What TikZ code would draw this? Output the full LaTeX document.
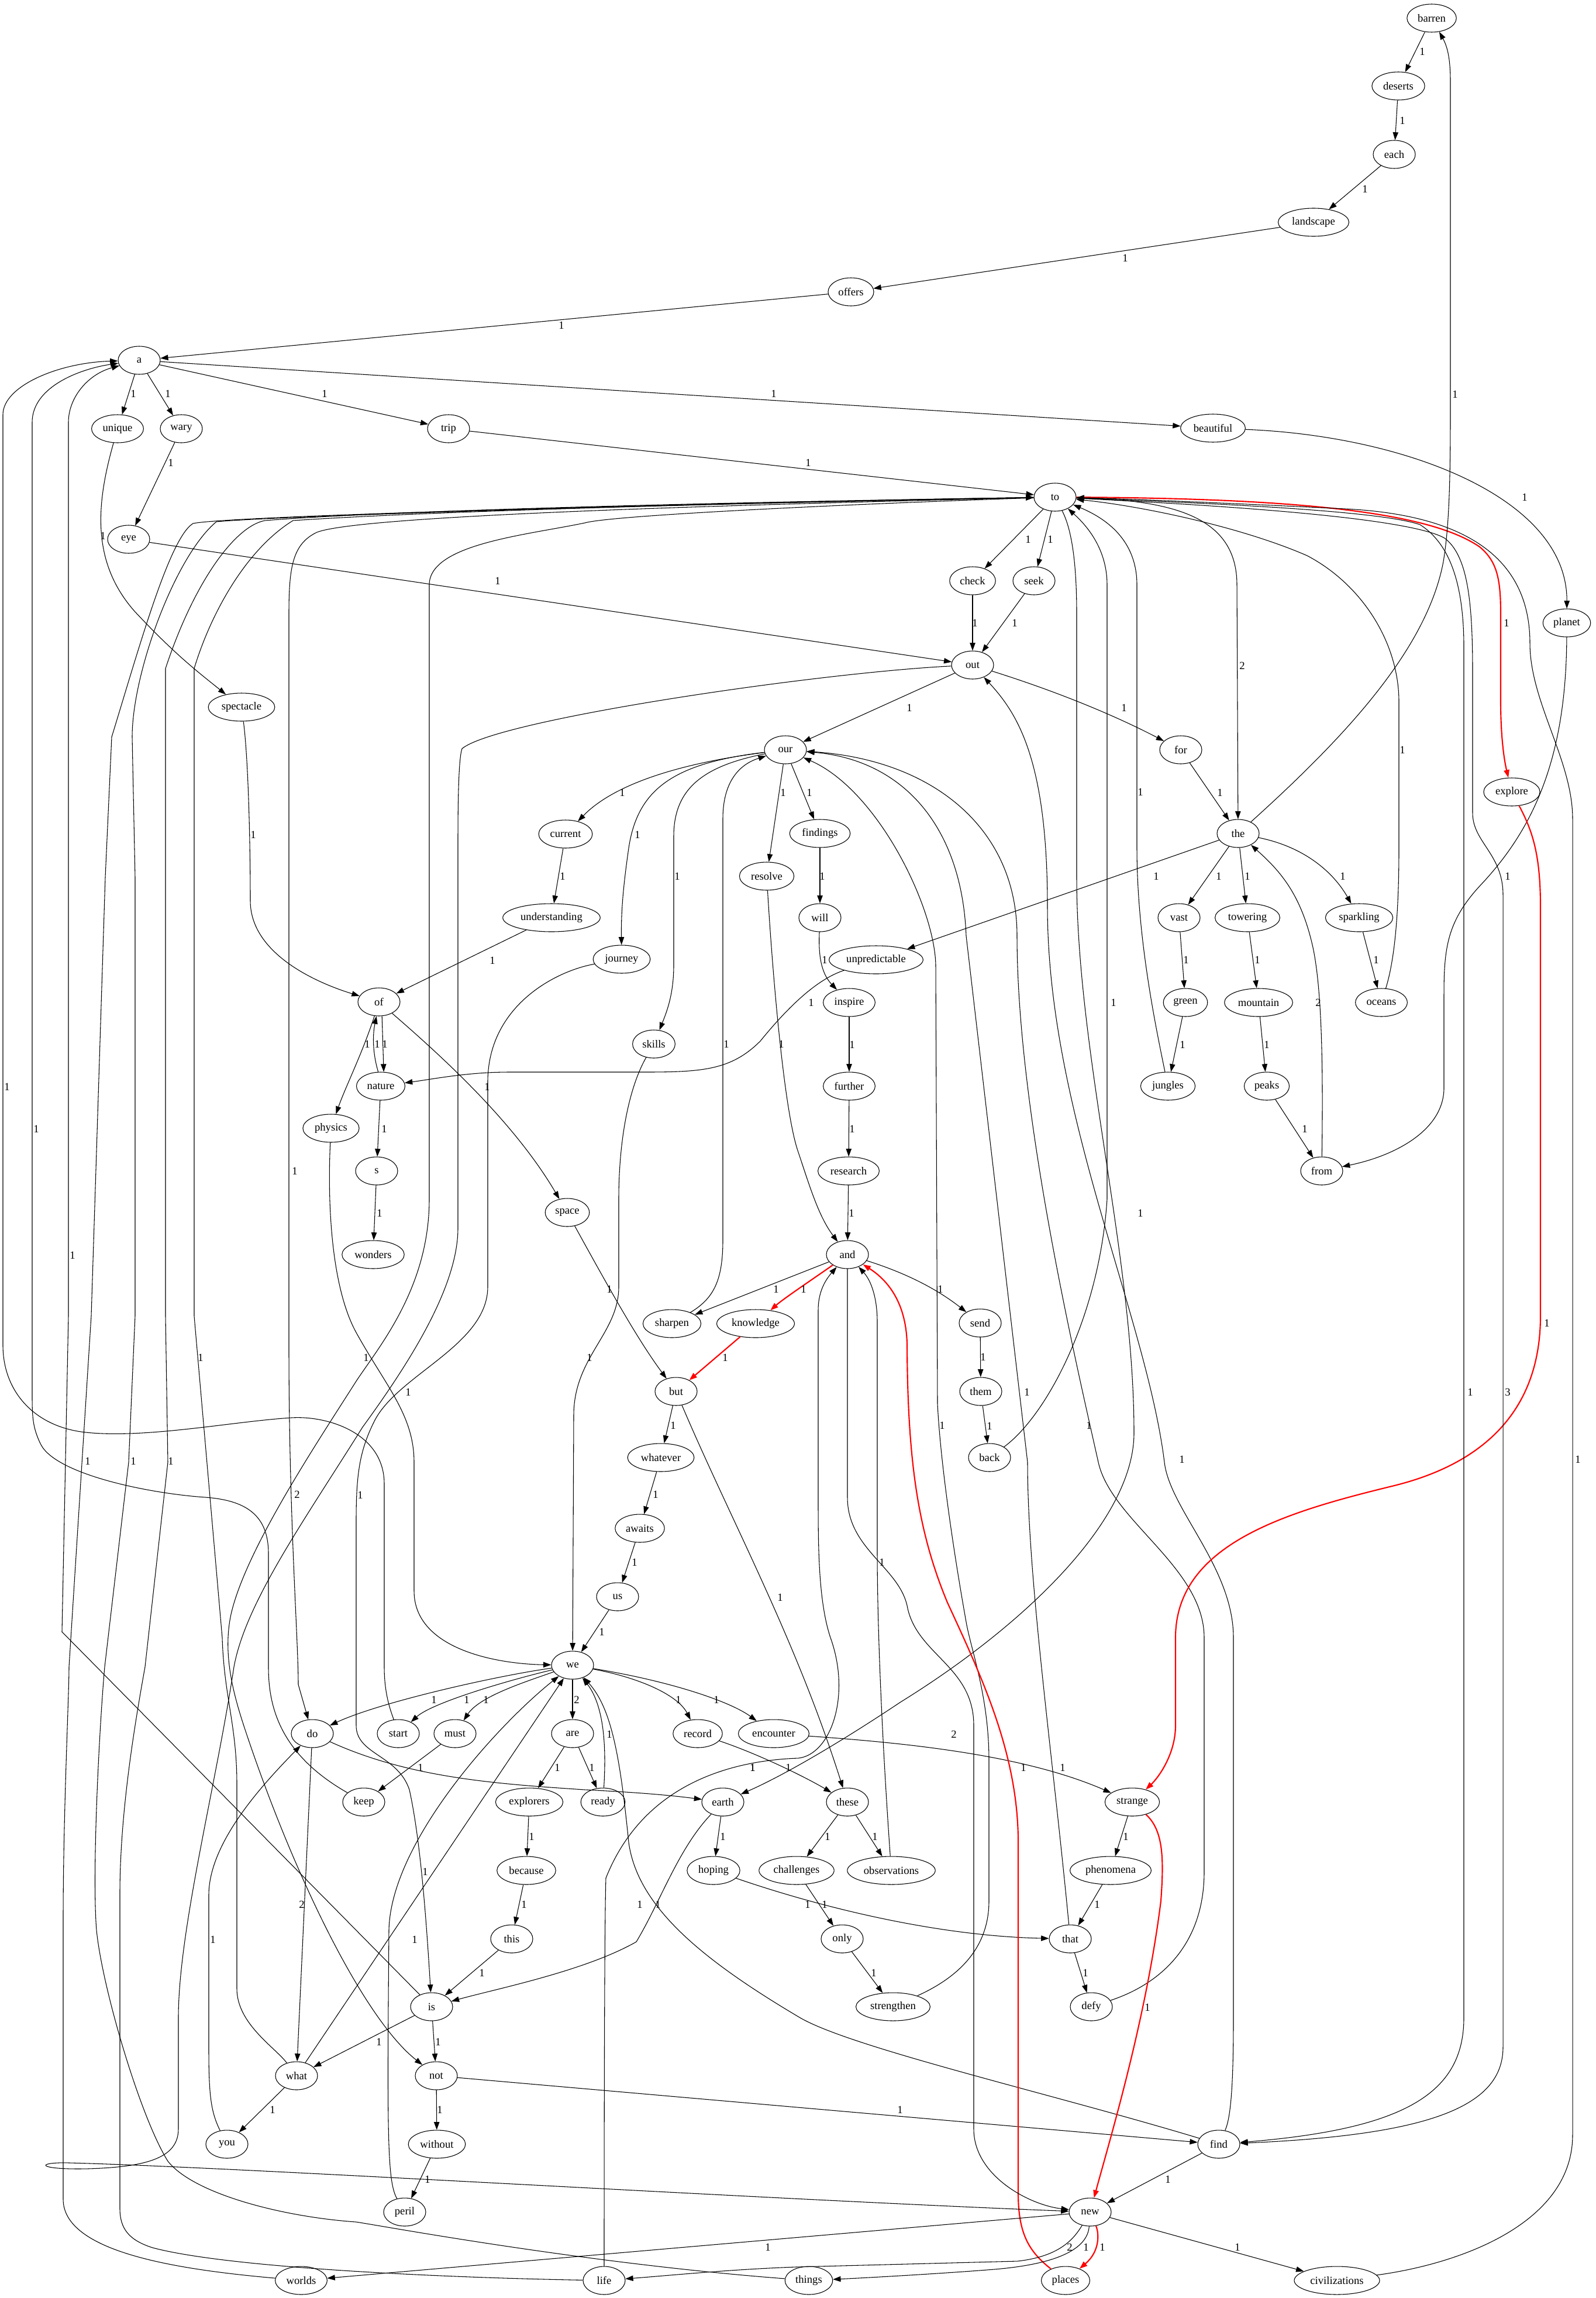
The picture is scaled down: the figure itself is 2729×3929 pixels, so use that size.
\documentclass[tikz,border=0pt]{standalone}
\usepackage{fontspec}
\setmainfont{Liberation Serif}
\usetikzlibrary{arrows.meta,shapes.geometric}
\begin{document}
\begin{tikzpicture}[x=0.75pt,y=-0.75pt,
  w/.style={ellipse,draw,line width=0.8pt,minimum width=54pt,minimum height=36pt,inner xsep=4.5pt,inner ysep=2pt,font=\fontsize{14pt}{16pt}\selectfont},
  e/.style={draw,line width=0.8pt,-{Triangle[length=10pt,width=7pt]}},
  re/.style={e,draw=red,line width=1.6pt},
  lab/.style={font=\fontsize{14pt}{16pt}\selectfont,inner sep=0pt,text=black}]
\fill[white] (0,0) rectangle (2729,3929);
\useasboundingbox (0,0) rectangle (2729,3929);

% ---------- words ----------
\node[w] (barren) at (2448,31) {barren};
\node[w] (deserts) at (2391,147) {deserts};
\node[w] (each) at (2384,264) {each};
\node[w] (landscape) at (2246,380) {landscape};
\node[w] (offers) at (1455,499) {offers};
\node[w] (a) at (238,616) {a};
\node[w] (unique) at (201,733) {unique};
\node[w] (wary) at (310,733) {wary};
\node[w] (trip) at (767,733) {trip};
\node[w] (beautiful) at (2074,732) {beautiful};
\node[w] (to) at (1804,850) {to};
\node[w] (eye) at (220,922) {eye};
\node[w] (check) at (1663,993) {check};
\node[w] (seek) at (1768,993) {seek};
\node[w] (planet) at (2679,1065) {planet};
\node[w] (out) at (1663,1137) {out};
\node[w] (spectacle) at (413,1209) {spectacle};
\node[w] (for) at (2019,1282) {for};
\node[w] (our) at (1343,1282) {our};
\node[w] (explore) at (2585,1354) {explore};
\node[w] (the) at (2117,1425) {the};
\node[w] (current) at (967,1426) {current};
\node[w] (findings) at (1402,1425) {findings};
\node[w] (resolve) at (1311,1498) {resolve};
\node[w] (understanding) at (943,1569) {understanding};
\node[w] (will) at (1402,1569) {will};
\node[w] (vast) at (2016,1569) {vast};
\node[w] (towering) at (2133,1569) {towering};
\node[w] (sparkling) at (2324,1569) {sparkling};
\node[w] (journey) at (1063,1640) {journey};
\node[w] (unpredictable) at (1498,1641) {unpredictable};
\node[w] (of) at (648,1713) {of};
\node[w] (inspire) at (1452,1714) {inspire};
\node[w] (green) at (2027,1714) {green};
\node[w] (mountain) at (2152,1714) {mountain};
\node[w] (oceans) at (2362,1714) {oceans};
\node[w] (skills) at (1118,1785) {skills};
\node[w] (nature) at (651,1857) {nature};
\node[w] (further) at (1452,1857) {further};
\node[w] (jungles) at (1997,1857) {jungles};
\node[w] (peaks) at (2166,1857) {peaks};
\node[w] (physics) at (566,1929) {physics};
\node[w] (s) at (644,2002) {s};
\node[w] (research) at (1451,2002) {research};
\node[w] (from) at (2260,2002) {from};
\node[w] (space) at (970,2073) {space};
\node[w] (wonders) at (638,2145) {wonders};
\node[w] (and) at (1449,2145) {and};
\node[w] (sharpen) at (1149,2263) {sharpen};
\node[w] (knowledge) at (1292,2263) {knowledge};
\node[w] (send) at (1676,2262) {send};
\node[w] (but) at (1156,2379) {but};
\node[w] (them) at (1677,2379) {them};
\node[w] (whatever) at (1130,2492) {whatever};
\node[w] (back) at (1692,2492) {back};
\node[w] (awaits) at (1094,2613) {awaits};
\node[w] (us) at (1056,2730) {us};
\node[w] (we) at (979,2847) {we};
\node[w] (do) at (534,2964) {do};
\node[w] (start) at (681,2964) {start};
\node[w] (must) at (778,2964) {must};
\node[w] (are) at (979,2964) {are};
\node[w] (record) at (1193,2964) {record};
\node[w] (encounter) at (1323,2964) {encounter};
\node[w] (keep) at (622,3081) {keep};
\node[w] (explorers) at (905,3081) {explorers};
\node[w] (ready) at (1031,3081) {ready};
\node[w] (earth) at (1236,3081) {earth};
\node[w] (these) at (1449,3081) {these};
\node[w] (strange) at (1936,3081) {strange};
\node[w] (because) at (900,3198) {because};
\node[w] (hoping) at (1220,3198) {hoping};
\node[w] (challenges) at (1362,3198) {challenges};
\node[w] (observations) at (1524,3198) {observations};
\node[w] (phenomena) at (1899,3198) {phenomena};
\node[w] (this) at (875,3315) {this};
\node[w] (only) at (1440,3315) {only};
\node[w] (that) at (1830,3315) {that};
\node[w] (is) at (738,3431) {is};
\node[w] (strengthen) at (1527,3431) {strengthen};
\node[w] (defy) at (1866,3431) {defy};
\node[w] (what) at (507,3549) {what};
\node[w] (not) at (746,3549) {not};
\node[w] (you) at (388,3666) {you};
\node[w] (without) at (747,3666) {without};
\node[w] (find) at (2084,3666) {find};
\node[w] (peril) at (692,3782) {peril};
\node[w] (new) at (1864,3782) {new};
\node[w] (worlds) at (515,3899) {worlds};
\node[w] (life) at (1033,3899) {life};
\node[w] (things) at (1383,3899) {things};
\node[w] (places) at (1822,3899) {places};
\node[w] (civilizations) at (2286,3899) {civilizations};

% ---------- opening chain ----------
\draw[e] (barren) -- (deserts) node[lab] at (2432,88) {1};
\draw[e] (deserts) -- (each) node[lab] at (2398,206) {1};
\draw[e] (each) -- (landscape) node[lab] at (2334,323) {1};
\draw[e] (landscape) -- (offers) node[lab] at (1924,441) {1};
\draw[e] (offers) -- (a) node[lab] at (960,556) {1};
\draw[e] (a) -- (unique) node[lab] at (228,673) {1};
\draw[e] (a) -- (wary) node[lab] at (287,673) {1};
\draw[e] (a) -- (trip) node[lab] at (555,673) {1};
\draw[e] (a) -- (beautiful) node[lab] at (1323,673) {1};
\draw[e] (trip) -- (to) node[lab] at (1382,791) {1};
\draw[e] (beautiful) .. controls (2400,745) and (2680,850) .. (planet) node[lab] at (2607,850) {1};
\draw[e] (wary) -- (eye) node[lab] at (292,791) {1};
\draw[e] (unique) .. controls (165,860) and (155,960) .. (230,1045) .. controls (300,1120) and (340,1150) .. (spectacle) node[lab] at (176,916) {1};
\draw[e] (eye) -- (out) node[lab] at (851,993) {1};

% ---------- around "to" and "out" ----------
\draw[e] (to) -- (check) node[lab] at (1758,922) {1};
\draw[e] (to) -- (seek) node[lab] at (1796,922) {1};
\draw[e] (check) -- (out) node[lab] at (1667,1065) {1};
\draw[e] (seek) -- (out) node[lab] at (1735,1065) {1};
\draw[e] (out) -- (our) node[lab] at (1555,1210) {1};
\draw[e] (out) .. controls (1800,1180) and (1900,1220) .. (for) node[lab] at (1922,1210) {1};
\draw[e] (for) -- (the) node[lab] at (2086,1355) {1};
\draw[e] (to) .. controls (2000,855) and (2115,880) .. (2115,1000) -- (the) node[lab] at (2124,1138) {2};
\draw[re] (to) .. controls (2250,852) and (2450,880) .. (2530,935) .. controls (2560,960) and (2566,990) .. (2566,1050) -- (2566,1200) .. controls (2566,1260) and (2572,1300) .. (explore) node[lab] at (2576,1065) {1};
\draw[e] (planet) .. controls (2678,1300) and (2620,1420) .. (2530,1515) .. controls (2475,1575) and (2469,1620) .. (2469,1700) -- (2469,1860) .. controls (2469,1930) and (2390,1975) .. (from) node[lab] at (2578,1498) {1};
\draw[e] (the) .. controls (2300,1260) and (2440,1110) .. (2468,960) .. controls (2478,900) and (2480,820) .. (2480,700) -- (2480,140) .. controls (2480,100) and (2475,80) .. (barren) node[lab] at (2488,674) {1};
\draw[e] (the) -- (vast) node[lab] at (2084,1498) {1};
\draw[e] (the) -- (towering) node[lab] at (2133,1498) {1};
\draw[e] (the) .. controls (2240,1450) and (2285,1500) .. (sparkling) node[lab] at (2296,1498) {1};
\draw[e] (the) -- (unpredictable) node[lab] at (1977,1498) {1};
\draw[e] (vast) -- (green) node[lab] at (2028,1641) {1};
\draw[e] (green) -- (jungles) node[lab] at (2022,1786) {1};
\draw[e] (towering) -- (mountain) node[lab] at (2150,1641) {1};
\draw[e] (mountain) -- (peaks) node[lab] at (2166,1786) {1};
\draw[e] (peaks) -- (from) node[lab] at (2231,1930) {1};
\draw[e] (sparkling) -- (oceans) node[lab] at (2353,1641) {1};
\draw[e] (from) .. controls (2262,1850) and (2262,1700) .. (2245,1620) .. controls (2225,1530) and (2190,1490) .. (the) node[lab] at (2254,1714) {2};
\draw[e] (oceans) .. controls (2385,1640) and (2392,1560) .. (2392,1450) -- (2392,1200) .. controls (2392,1100) and (2330,1000) .. (2235,950) .. controls (2120,900) and (1950,865) .. (to) node[lab] at (2398,1282) {1};
\draw[e] (jungles) .. controls (1975,1750) and (1944,1600) .. (1944,1450) -- (1944,1000) .. controls (1944,930) and (1900,890) .. (to) node[lab] at (1950,1354) {1};

% ---------- "our" and its followers ----------
\draw[e] (our) .. controls (1200,1300) and (1060,1330) .. (current) node[lab] at (1064,1355) {1};
\draw[e] (our) .. controls (1150,1305) and (1090,1350) .. (1075,1450) .. controls (1065,1520) and (1062,1560) .. (journey) node[lab] at (1090,1427) {1};
\draw[e] (our) .. controls (1200,1310) and (1152,1350) .. (1152,1430) -- (1152,1650) .. controls (1152,1700) and (1140,1730) .. (skills) node[lab] at (1158,1498) {1};
\draw[e] (our) -- (resolve) node[lab] at (1339,1355) {1};
\draw[e] (our) -- (findings) node[lab] at (1384,1355) {1};
\draw[e] (current) -- (understanding) node[lab] at (962,1498) {1};
\draw[e] (understanding) -- (of) node[lab] at (842,1642) {1};
\draw[e] (spectacle) .. controls (425,1300) and (428,1450) .. (428,1540) .. controls (428,1630) and (540,1680) .. (of) node[lab] at (433,1427) {1};
\draw[e] (findings) -- (will) node[lab] at (1406,1498) {1};
\draw[e] (will) .. controls (1400,1620) and (1400,1660) .. (inspire) node[lab] at (1410,1641) {1};
\draw[e] (inspire) -- (further) node[lab] at (1457,1786) {1};
\draw[e] (further) -- (research) node[lab] at (1457,1930) {1};
\draw[e] (research) -- (and) node[lab] at (1456,2074) {1};
\draw[e] (unpredictable) .. controls (1410,1670) and (1365,1700) .. (1300,1780) .. controls (1250,1830) and (1200,1833) .. (1100,1833) -- (870,1833) .. controls (800,1833) and (740,1845) .. (nature) node[lab] at (1387,1714) {1};
\draw[e] (of.-78) -- (nature.78) node[lab] at (658,1785) {1};
\draw[e] (nature.100) .. controls (637,1800) and (637,1770) .. (of.-100) node[lab] at (645,1785) {1};
\draw[e] (of) .. controls (620,1800) and (590,1860) .. (physics) node[lab] at (628,1785) {1};
\draw[e] (nature) -- (s) node[lab] at (657,1930) {1};
\draw[e] (s) -- (wonders) node[lab] at (649,2074) {1};
\draw[e] (of) .. controls (760,1810) and (880,1920) .. (space) node[lab] at (833,1858) {1};
\draw[e] (space) .. controls (1040,2200) and (1090,2290) .. (but) node[lab] at (1042,2204) {1};
\draw[e] (resolve) .. controls (1320,1650) and (1340,1900) .. (1365,1970) .. controls (1385,2030) and (1400,2080) .. (and) node[lab] at (1336,1785) {1};
\draw[e] (and) -- (sharpen) node[lab] at (1327,2204) {1};
\draw[re] (and) .. controls (1400,2180) and (1340,2220) .. (knowledge) node[lab] at (1374,2204) {1};
\draw[e] (and) .. controls (1560,2180) and (1610,2210) .. (send) node[lab] at (1608,2204) {1};
\draw[e] (sharpen) .. controls (1220,2220) and (1236,2190) .. (1236,2120) -- (1236,1400) .. controls (1236,1330) and (1270,1305) .. (our) node[lab] at (1242,1785) {1};
\draw[re] (knowledge) -- (but) node[lab] at (1240,2321) {1};
\draw[e] (send) -- (them) node[lab] at (1681,2320) {1};
\draw[e] (them) -- (back) node[lab] at (1692,2438) {1};
\draw[e] (back) .. controls (1790,2420) and (1880,2250) .. (1893,2050) -- (1893,1000) .. controls (1893,940) and (1860,900) .. (to) node[lab] at (1904,1714) {1};
\draw[e] (but) -- (whatever) node[lab] at (1151,2437) {1};
\draw[e] (whatever) -- (awaits) node[lab] at (1121,2555) {1};
\draw[e] (awaits) -- (us) node[lab] at (1085,2671) {1};
\draw[e] (us) -- (we) node[lab] at (1029,2790) {1};
\draw[e] (but) .. controls (1250,2600) and (1360,2800) .. (these) node[lab] at (1334,2731) {1};
\draw[e] (skills) .. controls (1075,1860) and (1058,1950) .. (1058,2050) -- (1058,2200) .. controls (1058,2280) and (981,2320) .. (981,2420) -- (we) node[lab] at (1008,2321) {1};
\draw[e] (physics) .. controls (560,2050) and (565,2200) .. (610,2280) .. controls (660,2370) and (708,2420) .. (708,2500) -- (708,2720) .. controls (708,2820) and (850,2845) .. (we) node[lab] at (698,2380) {1};
\draw[e] (journey) .. controls (950,1660) and (834,1720) .. (834,1850) -- (834,2200) .. controls (834,2300) and (680,2350) .. (640,2430) .. controls (615,2480) and (609,2520) .. (609,2600) -- (609,2950) .. controls (609,3000) and (680,3000) .. (700,3060) .. controls (720,3150) and (730,3300) .. (is) node[lab] at (616,2556) {1};

% ---------- "we" and its followers ----------
\draw[e] (we) .. controls (850,2865) and (650,2910) .. (do) node[lab] at (742,2906) {1};
\draw[e] (we) .. controls (880,2870) and (740,2910) .. (start) node[lab] at (798,2906) {1};
\draw[e] (we) .. controls (900,2875) and (820,2900) .. (must) node[lab] at (831,2906) {1};
\draw[e] (we) -- (are) node[lab] at (986,2906) {2};
\draw[e] (ready) .. controls (1036,3000) and (1036,2920) .. (we) node[lab] at (1042,2965) {1};
\draw[e] (we) .. controls (1100,2870) and (1160,2900) .. (record) node[lab] at (1160,2906) {1};
\draw[e] (we) .. controls (1150,2875) and (1250,2910) .. (encounter) node[lab] at (1225,2906) {1};
\draw[e] (are) -- (explorers) node[lab] at (953,3022) {1};
\draw[e] (are) -- (ready) node[lab] at (1012,3022) {1};
\draw[e] (explorers) -- (because) node[lab] at (909,3140) {1};
\draw[e] (because) -- (this) node[lab] at (896,3256) {1};
\draw[e] (this) -- (is) node[lab] at (824,3373) {1};
\draw[e] (must) -- (keep) node[lab] at (719,3022) {1};
\draw[e] (keep) .. controls (480,3000) and (459,2920) .. (459,2850) -- (459,2656) .. controls (459,2590) and (420,2565) .. (351,2560) .. controls (250,2553) and (96,2520) .. (70,2470) .. controls (55,2440) and (55,2420) .. (55,2380) -- (55,722) .. controls (55,660) and (140,630) .. (a) node[lab] at (62,1930) {1};
\draw[e] (start) .. controls (670,2930) and (657,2900) .. (657,2850) -- (657,2537) .. controls (657,2450) and (560,2420) .. (498,2424) .. controls (400,2430) and (250,2460) .. (147,2449) .. controls (60,2440) and (5,2380) .. (5,2300) -- (5,709) .. controls (5,660) and (100,620) .. (a) node[lab] at (12,1858) {1};
\draw[e] (is) -- (106,2790) -- (117,2250) -- (117,722) .. controls (117,680) and (150,640) .. (a) node[lab] at (124,2146) {1};
\draw[e] (record) .. controls (1300,3000) and (1380,3040) .. (these) node[lab] at (1348,3022) {1};
\draw[e] (encounter) .. controls (1550,2980) and (1750,3000) .. (strange) node[lab] at (1817,3022) {1};
\draw[e] (do) .. controls (700,3040) and (850,3050) .. (1000,3060) .. controls (1100,3065) and (1150,3070) .. (earth) node[lab] at (1287,3022) {1};
\draw[e] (to) .. controls (1830,900) and (1841,950) .. (1841,1050) -- (1841,1500) .. controls (1841,1800) and (1939,2150) .. (1939,2450) .. controls (1939,2600) and (1750,2780) .. (1540,2910) .. controls (1420,2990) and (1330,3040) .. (earth) node[lab] at (1950,2074) {1};
\draw[e] (earth) -- (hoping) node[lab] at (1236,3140) {1};
\draw[e] (earth) .. controls (1160,3160) and (1130,3250) .. (1088,3320) .. controls (1000,3370) and (850,3400) .. (is) node[lab] at (1125,3256) {1};
\draw[e] (hoping) .. controls (1400,3260) and (1600,3310) .. (that) node[lab] at (1381,3256) {1};
\draw[e] (these) -- (challenges) node[lab] at (1415,3140) {1};
\draw[e] (these) -- (observations) node[lab] at (1496,3140) {1};
\draw[e] (challenges) -- (only) node[lab] at (1410,3256) {1};
\draw[e] (only) -- (strengthen) node[lab] at (1494,3373) {1};
\draw[e] (observations) .. controls (1510,3000) and (1500,2800) .. (1500,2650) -- (1500,2260) .. controls (1500,2220) and (1490,2190) .. (and) node[lab] at (1508,2671) {1};
\draw[e] (strange) -- (phenomena) node[lab] at (1925,3140) {1};
\draw[e] (phenomena) -- (that) node[lab] at (1876,3256) {1};
\draw[e] (that) -- (defy) node[lab] at (1856,3373) {1};
\draw[e] (that) .. controls (1800,3000) and (1757,2700) .. (1757,2500) -- (1652,1600) .. controls (1645,1420) and (1550,1300) .. (our) node[lab] at (1756,2380) {1};
\draw[e] (strengthen) .. controls (1640,3380) and (1691,3330) .. (1691,3250) -- (1691,3010) .. controls (1691,2900) and (1660,2820) .. (1652,2773) .. controls (1630,2650) and (1608,2500) .. (1603,2400) -- (1600,1650) .. controls (1598,1550) and (1500,1350) .. (our) node[lab] at (1611,2437) {1};
\draw[e] (defy) .. controls (1990,3390) and (2059,3320) .. (2059,3200) -- (2059,2800) .. controls (2059,2680) and (1900,2600) .. (1878,2500) .. controls (1840,2330) and (1739,1900) .. (1739,1600) .. controls (1739,1420) and (1600,1300) .. (our) node[lab] at (1862,2437) {1};
\draw[e] (find) .. controls (2105,3620) and (2109,3560) .. (2109,3450) -- (2109,2800) .. controls (2109,2680) and (2000,2580) .. (1991,2500) .. controls (1960,2250) and (1791,1900) .. (1791,1550) .. controls (1791,1300) and (1740,1220) .. (out) node[lab] at (2021,2495) {1};
\draw[e] (what) -- (we) node[lab] at (727,3200) {1};
\draw[e] (peril) .. controls (662,3730) and (662,3650) .. (665,3300) .. controls (668,3150) and (850,2950) .. (we) node[lab] at (709,3316) {1};
\draw[e] (find) .. controls (1800,3580) and (1450,3500) .. (1365,3448) .. controls (1200,3350) and (1090,3260) .. (1075,3150) .. controls (1060,3000) and (1045,2920) .. (we) node[lab] at (1094,3256) {1};
\draw[e] (is) -- (what) node[lab] at (648,3491) {1};
\draw[e] (is) -- (not) node[lab] at (749,3491) {1};
\draw[e] (what) -- (you) node[lab] at (466,3607) {1};
\draw[e] (not) -- (without) node[lab] at (752,3607) {1};
\draw[e] (without) -- (peril) node[lab] at (731,3726) {1};
\draw[e] (do) -- (what) node[lab] at (516,3256) {2};
\draw[e] (you) .. controls (360,3610) and (357,3580) .. (357,3500) -- (357,3240) .. controls (357,3150) and (450,3050) .. (do) node[lab] at (364,3316) {1};
\draw[e] (not) -- (find) node[lab] at (1539,3607) {1};
\draw[e] (find) -- (new) node[lab] at (1997,3726) {1};

% ---------- the highlighted path ----------
\draw[re] (explore) .. controls (2620,1420) and (2634,1460) .. (2634,1550) -- (2634,2250) .. controls (2634,2400) and (2550,2500) .. (2380,2541) .. controls (2200,2585) and (2010,2640) .. (2010,2800) -- (2010,2950) .. controls (2010,3000) and (1980,3040) .. (strange) node[lab] at (2645,2262) {1};
\draw[re] (strange) .. controls (1990,3130) and (1990,3180) .. (1985,3250) .. controls (1960,3450) and (1900,3650) .. (new) node[lab] at (1962,3432) {1};
\draw[re] (new) .. controls (1880,3820) and (1880,3850) .. (places) node[lab] at (1885,3842) {1};
\draw[re] (places) .. controls (1760,3850) and (1741,3820) .. (1741,3750) -- (1741,3150) .. controls (1741,3000) and (1680,2870) .. (1620,2740) .. controls (1570,2620) and (1552,2500) .. (1551,2300) .. controls (1550,2230) and (1520,2190) .. (and) node[lab] at (1750,3022) {1};

% ---------- "new" ----------
\draw[e] (and) .. controls (1449,2300) and (1449,2500) .. (1449,2560) .. controls (1449,2650) and (1540,2680) .. (1552,2750) .. controls (1570,2830) and (1665,2850) .. (1665,2950) -- (1665,3640) .. controls (1665,3720) and (1760,3770) .. (new) node[lab] at (1631,2965) {2};
\draw[e] (life) .. controls (1033,3800) and (1033,3300) .. (1036,3211) .. controls (1100,3050) and (1250,3010) .. (1365,3006) .. controls (1420,3000) and (1456,2900) .. (1420,2800) .. controls (1400,2740) and (1399,2650) .. (1399,2568) -- (1399,2240) .. controls (1399,2210) and (1410,2190) .. (and) node[lab] at (1287,3022) {1};
\draw[e] (new) -- (worlds) node[lab] at (1313,3842) {1};
\draw[e] (new) .. controls (1835,3830) and (1810,3858) .. (1740,3866) -- (1360,3876) .. controls (1250,3880) and (1150,3890) .. (life) node[lab] at (1829,3842) {2};
\draw[e] (new) .. controls (1860,3840) and (1820,3870) .. (1700,3880) .. controls (1600,3888) and (1470,3895) .. (things) node[lab] at (1857,3842) {1};
\draw[e] (new) -- (civilizations) node[lab] at (2116,3842) {1};
\draw[e] (civilizations) .. controls (2500,3870) and (2689,3800) .. (2689,3650) -- (2689,1400) .. controls (2689,1300) and (2616,1200) .. (2616,1100) .. controls (2616,950) and (2500,880) .. (2300,870) .. controls (2100,860) and (1900,852) .. (to) node[lab] at (2698,2495) {1};
\draw[e] (to) .. controls (2000,858) and (2350,870) .. (2428,897) .. controls (2480,930) and (2502,1000) .. (2503,1100) -- (2503,3450) .. controls (2503,3580) and (2400,3640) .. (find) node[lab] at (2514,2380) {1};
\draw[e] (to) .. controls (2000,860) and (2400,880) .. (2470,920) .. controls (2510,950) and (2518,1030) .. (2518,1150) -- (2518,1390) .. controls (2518,1440) and (2570,1460) .. (2570,1530) -- (2570,3500) .. controls (2570,3600) and (2450,3650) .. (find) node[lab] at (2578,2380) {3};
\draw[e] (out) .. controls (1400,1150) and (850,1230) .. (790,1280) .. controls (783,1300) and (783,1400) .. (783,1450) -- (783,2100) .. controls (783,2200) and (700,2330) .. (620,2440) .. controls (520,2600) and (420,2740) .. (400,2850) .. controls (370,3050) and (305,3300) .. (305,3450) -- (305,3640) .. controls (305,3690) and (250,3705) .. (150,3708) .. controls (60,3710) and (60,3696) .. (120,3698) .. controls (400,3705) and (1300,3760) .. (new) node[lab] at (508,2555) {2};

% ---------- long returns into "to" ----------
\draw[e] (to) .. controls (1500,860) and (1050,880) .. (1000,894) .. controls (900,915) and (734,930) .. (734,1000) -- (734,2050) .. controls (734,2200) and (650,2300) .. (610,2360) .. controls (540,2470) and (420,2650) .. (395,2760) .. controls (380,2830) and (400,2900) .. (420,2960) .. controls (500,3200) and (620,3450) .. (not) node[lab] at (626,2321) {1};
\draw[e] (to) .. controls (1300,862) and (620,880) .. (542,910) .. controls (500,930) and (494,970) .. (494,1050) -- (494,2300) .. controls (494,2600) and (510,2800) .. (510,2880) -- (do) node[lab] at (504,2002) {1};
\draw[e] (what) .. controls (470,3500) and (405,3460) .. (405,3400) -- (405,3050) .. controls (405,2950) and (383,2900) .. (380,2800) -- (332,2250) -- (332,1143) .. controls (360,1050) and (420,940) .. (501,890) .. controls (800,870) and (1400,858) .. (to) node[lab] at (343,2321) {1};
\draw[e] (worlds) .. controls (300,3880) and (108,3850) .. (108,3760) -- (108,3284) .. controls (108,3100) and (118,2900) .. (118,2850) -- (156,2250) -- (180,1500) -- (191,1260) .. controls (240,1100) and (290,920) .. (330,895) .. controls (400,880) and (1400,856) .. (to) node[lab] at (150,2498) {1};
\draw[e] (things) .. controls (1000,3870) and (650,3805) .. (609,3799) .. controls (480,3790) and (330,3750) .. (287,3695) .. controls (240,3620) and (175,3400) .. (165,3300) .. controls (157,3200) and (170,2950) .. (179,2850) -- (220,2500) -- (231,2250) -- (231,1500) -- (226,1260) .. controls (226,1150) and (300,950) .. (370,892) .. controls (500,880) and (1400,856) .. (to) node[lab] at (228,2498) {1};
\draw[e] (life) .. controls (800,3895) and (400,3880) .. (261,3843) .. controls (220,3830) and (205,3810) .. (205,3776) -- (205,3238) .. controls (205,3100) and (230,2950) .. (248,2850) -- (287,2500) -- (283,2250) -- (283,1143) .. controls (330,1000) and (400,900) .. (453,890) .. controls (700,870) and (1400,856) .. (to) node[lab] at (292,2498) {1};
\end{tikzpicture}
\end{document}
